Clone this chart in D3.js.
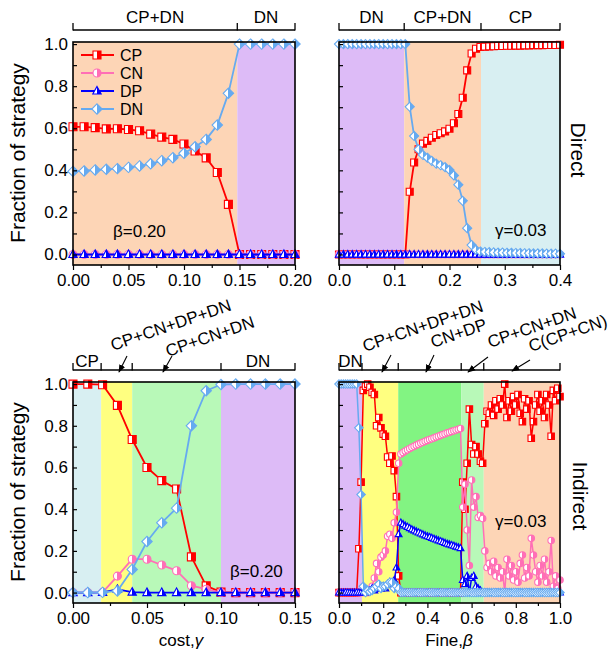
<!DOCTYPE html>
<html>
<head>
<meta charset="utf-8">
<script src="https://cdn.jsdelivr.net/npm/d3@7"></script>
<style>
  body { margin: 0; background: #fff; }
  svg text { font-family: "Liberation Sans", Arial, sans-serif; fill: #000; }
</style>
</head>
<body>
<script>
// ---- data: direct punishment, cost sweep (beta = 0.20)
const tlCost = [0,0.01,0.02,0.03,0.04,0.05,0.06,0.07,0.08,0.09,0.10,0.11,0.12,0.13,0.14,0.15,0.16,0.17,0.18,0.19,0.20];
const tlCP = [0.607,0.607,0.603,0.597,0.598,0.594,0.588,0.572,0.558,0.547,0.525,0.492,0.459,0.390,0.238,0,0,0,0,0,0];
const tlCN = [0,0,0,0,0,0,0,0,0,0,0,0,0,0,0,0,0,0,0,0,0];
const tlDP = [0,0,0,0,0,0,0,0,0,0,0,0,0,0,0,0,0,0,0,0,0];
const tlDN = [0.395,0.397,0.402,0.405,0.408,0.414,0.421,0.431,0.446,0.460,0.481,0.512,0.547,0.615,0.766,1,1,1,1,1,1];
const tlBounds = [0, 0.148, 0.2];
const tlPhases = ["CP+DN", "DN"];

// ---- direct punishment, fine sweep (gamma = 0.03)
const trFine = [0,0.008,0.016,0.024,0.032,0.04,0.048,0.056,0.064,0.072,0.08,0.088,0.096,0.104,0.112,0.12,0.128,0.136,0.144,0.152,0.16,0.168,0.176,0.184,0.192,0.2,0.208,0.216,0.224,0.232,0.24,0.248,0.256,0.264,0.272,0.28,0.288,0.296,0.304,0.312,0.32,0.328,0.336,0.344,0.352,0.36,0.368,0.376,0.384,0.392,0.4];
const trCP = [0,0,0,0,0,0,0,0,0,0,0,0,0,0,0,0,
  0.298,0.437,0.500,0.527,0.540,0.555,0.568,0.576,0.585,0.598,0.624,0.668,0.745,0.875,0.955,0.978,0.986,
  0.988,0.989,0.990,0.991,0.991,0.992,0.992,0.993,0.993,0.994,0.994,0.995,0.995,0.995,0.996,0.996,0.996,0.997];
const trCN = [0,0,0,0,0,0,0,0,0,0,0,0,0,0,0,0,0,0,0,0,0,0,0,0,0,0,0,0,0,0,0,0,0,0,0,0,0,0,0,0,0,0,0,0,0,0,0,0,0,0,0];
const trDP = [0,0,0,0,0,0,0,0,0,0,0,0,0,0,0,0,0,0,0,0,0,0,0,0,0,0,0,0,0,0,0,0,0,0,0,0,0,0,0,0,0,0,0,0,0,0,0,0,0,0,0];
const trDN = [1,1,1,1,1,1,1,1,1,1,1,1,1,1,1,1,
  0.702,0.563,0.500,0.473,0.460,0.445,0.432,0.424,0.415,0.402,0.376,0.332,0.255,0.125,0.045,0.022,0.014,
  0.012,0.011,0.010,0.009,0.009,0.008,0.008,0.007,0.007,0.006,0.006,0.005,0.005,0.005,0.004,0.004,0.004,0.003];
const trBounds = [0, 0.118, 0.257, 0.4];
const trPhases = ["DN", "CP+DN", "CP"];

// ---- indirect punishment, cost sweep (beta = 0.20)
const blCost = [0,0.01,0.02,0.03,0.04,0.05,0.06,0.07,0.08,0.09,0.10,0.11,0.12,0.13,0.14,0.15];
const blCP = [1,1,0.997,0.898,0.734,0.600,0.537,0.497,0.171,0.032,0.002,0,0,0,0,0];
const blCN = [0,0,0.001,0.079,0.160,0.160,0.132,0.105,0.033,0.016,0,0,0,0,0,0];
const blDP = [0,0,0.001,0.015,0.002,0,0,0,0,0,0,0,0,0,0,0];
const blDN = [0,0,0.001,0.008,0.111,0.245,0.335,0.405,0.800,0.968,0.998,1,1,1,1,1];
const blBounds = [0, 0.019, 0.04, 0.1, 0.15];
const blPhases = ["CP", "CP+CN+DP+DN", "CP+CN+DN", "DN"];

// ---- indirect punishment, fine sweep (gamma = 0.03)
const brFine = [0,0.01,0.02,0.03,0.04,0.05,0.06,0.07,0.08,0.09,0.10,0.11,0.12,0.13,0.14,0.15,0.16,0.17,0.18,0.19,
  0.20,0.21,0.22,0.23,0.24,0.25,0.26,0.27,0.28,0.29,0.30,0.31,0.32,0.33,0.34,0.35,0.36,0.37,0.38,0.39,
  0.40,0.41,0.42,0.43,0.44,0.45,0.46,0.47,0.48,0.49,0.50,0.51,0.52,0.53,0.54,0.55,0.56,0.57,0.58,0.59,
  0.60,0.61,0.62,0.63,0.64,0.65,0.66,0.67,0.68,0.69,0.70,0.71,0.72,0.73,0.74,0.75,0.76,0.77,0.78,0.79,
  0.80,0.81,0.82,0.83,0.84,0.85,0.86,0.87,0.88,0.89,0.90,0.91,0.92,0.93,0.94,0.95,0.96,0.97,0.98,0.99,1.00];
const brCP = [0,0,0,0,0,0,0,0,0,0.21,
  0.53,0.97,0.99,1.0,0.985,0.96,0.95,0.80,0.84,0.79,
  0.76,0.75,0.65,0.62,0.655,0.585,0.46,0.08,0,0,
  0,0,0,0,0,0,0,0,0,0,
  0,0,0,0,0,0,0,0,0,0,
  0,0,0,0,0,0,0.53,0.40,0.62,0.88,
  0.71,0.665,0.70,0.665,0.63,0.62,0.81,0.87,0.86,0.90,
  0.85,0.92,0.88,0.93,0.90,1.0,0.84,0.92,0.87,0.94,
  0.90,0.95,0.86,0.82,0.93,0.88,0.92,0.74,0.82,0.90,
  0.95,0.87,0.92,0.84,0.95,0.90,0.75,0.97,0.92,0.98,
  0.94];
const brCN = [0,0,0,0,0,0,0,0,0,0,
  0,0,0.01,0,0.01,0.03,0.07,0.14,0.10,0.17,
  0.18,0.20,0.27,0.28,0.26,0.335,0.385,0.62,0.665,0.672,
  0.679,0.685,0.691,0.697,0.702,0.707,0.712,0.717,0.721,0.726,
  0.730,0.734,0.738,0.742,0.746,0.750,0.754,0.758,0.762,0.766,
  0.769,0.773,0.776,0.780,0.783,0.787,0.41,0.52,0.30,0.13,
  0.54,0.41,0.46,0.36,0.37,0.355,0.20,0.12,0.14,0.10,
  0.15,0.08,0.12,0.07,0.10,0.0,0.16,0.08,0.13,0.06,
  0.10,0.05,0.14,0.18,0.07,0.12,0.08,0.26,0.18,0.10,
  0.05,0.13,0.08,0.16,0.05,0.10,0.25,0.03,0.08,0.02,
  0.06];
const brDP = [0,0,0,0,0,0,0,0,0,0,
  0,0,0,0.01,0.01,0.02,0.01,0.03,0.02,0.02,
  0.03,0.02,0.04,0.05,0.04,0.06,0.12,0.28,0.335,0.328,
  0.321,0.315,0.309,0.303,0.298,0.293,0.288,0.283,0.279,0.274,
  0.270,0.266,0.262,0.258,0.254,0.250,0.246,0.242,0.238,0.234,
  0.231,0.227,0.224,0.220,0.217,0.213,0.06,0.04,0.08,0,
  0.07,0.08,0.03,0.02,0.01,0,0,0,0,0,
  0,0,0,0,0,0,0,0,0,0,
  0,0,0,0,0,0,0,0,0,0,
  0,0,0,0,0,0,0,0,0,0,
  0];
const brDN = [1,1,1,1,1,1,1,1,1,0.79,
  0.47,0.03,0,0.01,0.005,0.01,0.02,0.03,0.04,0.02,
  0.03,0.03,0.04,0.05,0.05,0.02,0.03,0.02,0,0,
  0,0,0,0,0,0,0,0,0,0,
  0,0,0,0,0,0,0,0,0,0,
  0,0,0,0,0,0,0,0,0,0,
  0,0,0,0,0,0,0,0,0,0,
  0,0,0,0,0,0,0,0,0,0,
  0,0,0,0,0,0,0,0,0,0,
  0,0,0,0,0,0,0,0,0,0,
  0];
const brBounds = [0, 0.104, 0.268, 0.553, 0.655, 1.0];
const brPhases = ["DN", "CP+CN+DP+DN", "CN+DP", "CP+CN+DN", "C(CP+CN)"];

const strategies = ["CP", "CN", "DP", "DN"];
const yMajor = [0, 0.2, 0.4, 0.6, 0.8, 1.0];
const yMinor = [0.1, 0.3, 0.5, 0.7, 0.9];

// ---- styles
const W = 616, H = 652;
const FONT = '"Liberation Sans", Arial, sans-serif';
const color = { CP: "#ff0000", CN: "#ff6fb6", DP: "#0000ff", DN: "#66aaf0" };
const shape = { CP: "square", CN: "circle", DP: "triangle", DN: "diamond" };
const phaseFill = {
  "CP+DN": "#fdd5b6", "C(CP+CN)": "#fdd5b6", "DN": "#ddbbf7", "CP": "#d8eff2",
  "CP+CN+DP+DN": "#ffff80", "CP+CN+DN": "#b8f9b8", "CN+DP": "#82f482"
};

const svg = d3.select("body").append("svg").attr("width", W).attr("height", H);
const defs = svg.append("defs");
strategies.forEach(k => {
  const gr = defs.append("linearGradient").attr("id", "half-" + k)
    .attr("x1", 0).attr("x2", 1).attr("y1", 0).attr("y2", 0);
  gr.append("stop").attr("offset", 0).attr("stop-color", "#fff");
  gr.append("stop").attr("offset", 0.5).attr("stop-color", "#fff");
  gr.append("stop").attr("offset", 0.5).attr("stop-color", color[k]);
  gr.append("stop").attr("offset", 1).attr("stop-color", color[k]);
});
defs.append("marker").attr("id", "arrow").attr("viewBox", "0 0 10 10")
  .attr("refX", 9).attr("refY", 5).attr("markerWidth", 8).attr("markerHeight", 8)
  .attr("markerUnits", "userSpaceOnUse").attr("orient", "auto")
  .append("path").attr("d", "M0,1L10,5L0,9Z").attr("fill", "#000");

function symbolPath(kind, s) {
  const h = s / 2;
  if (kind === "square") return `M${-h},${-h}H${h}V${h}H${-h}Z`;
  if (kind === "circle") return d3.symbol(d3.symbolCircle, Math.PI * h * h)();
  if (kind === "triangle") return `M0,${-h * 1.15}L${h * 1.05},${h * 0.75}L${-h * 1.05},${h * 0.75}Z`;
  const r = h * 1.3;
  return `M0,${-r}L${r},0L0,${r}L${-r},0Z`;
}

const panels = [
  { xs: tlCost, data: { CP: tlCP, CN: tlCN, DP: tlDP, DN: tlDN }, bounds: tlBounds, phases: tlPhases,
    left: 73, right: 295, top: 42, bottom: 265, xDomain: [0, 0.2],
    xMajor: [0, 0.05, 0.1, 0.15, 0.2], xMinor: [0.025, 0.075, 0.125, 0.175], fmt: ".2f",
    yLabels: true, ms: 8, lw: 1.8 },
  { xs: trFine, data: { CP: trCP, CN: trCN, DP: trDP, DN: trDN }, bounds: trBounds, phases: trPhases,
    left: 339, right: 560, top: 42, bottom: 265, xDomain: [0, 0.4],
    xMajor: [0, 0.1, 0.2, 0.3, 0.4], xMinor: [0.05, 0.15, 0.25, 0.35], fmt: ".1f",
    yLabels: false, ms: 7, lw: 1.8 },
  { xs: blCost, data: { CP: blCP, CN: blCN, DP: blDP, DN: blDN }, bounds: blBounds, phases: blPhases,
    left: 73, right: 295, top: 382, bottom: 603, xDomain: [0, 0.15],
    xMajor: [0, 0.05, 0.1, 0.15], xMinor: [0.025, 0.075, 0.125], fmt: ".2f",
    yLabels: true, ms: 8, lw: 1.8 },
  { xs: brFine, data: { CP: brCP, CN: brCN, DP: brDP, DN: brDN }, bounds: brBounds, phases: brPhases,
    left: 339, right: 560, top: 382, bottom: 603, xDomain: [0, 1],
    xMajor: [0, 0.2, 0.4, 0.6, 0.8, 1.0], xMinor: [0.1, 0.3, 0.5, 0.7, 0.9], fmt: ".1f",
    yLabels: false, ms: 6.5, lw: 1.5 }
];

panels.forEach(p => {
  const x = d3.scaleLinear().domain(p.xDomain).range([p.left, p.right]);
  const y = d3.scaleLinear().domain([-0.05, 1.01]).range([p.bottom, p.top]);
  p.x = x; p.y = y;
  const g = svg.append("g");

  // phase backgrounds
  g.selectAll("rect.phase").data(p.phases).join("rect").attr("class", "phase")
    .attr("x", (d, i) => x(p.bounds[i])).attr("y", p.top)
    .attr("width", (d, i) => x(p.bounds[i + 1]) - x(p.bounds[i]))
    .attr("height", p.bottom - p.top).attr("fill", d => phaseFill[d]);

  // series: line then markers, CP first, DN on top
  strategies.forEach(k => {
    const vals = p.data[k];
    g.append("path").datum(vals)
      .attr("d", d3.line().x((d, i) => x(p.xs[i])).y(d => y(d)))
      .attr("fill", "none").attr("stroke", color[k]).attr("stroke-width", p.lw)
      .attr("stroke-linejoin", "round");
    g.selectAll("path.m" + k).data(vals).join("path").attr("class", "m" + k)
      .attr("d", symbolPath(shape[k], p.ms))
      .attr("transform", (d, i) => `translate(${x(p.xs[i])},${y(d)})`)
      .attr("fill", `url(#half-${k})`).attr("stroke", color[k]).attr("stroke-width", 1.1);
  });

  // axes
  g.append("g").attr("transform", `translate(${p.left},0)`)
    .call(d3.axisLeft(y).tickValues(yMajor).tickSize(-4).tickPadding(5)
      .tickFormat(p.yLabels ? d3.format(".1f") : () => ""));
  g.append("g").attr("transform", `translate(${p.left},0)`)
    .call(d3.axisLeft(y).tickValues(yMinor).tickSize(-4).tickFormat(() => ""));
  g.append("g").attr("transform", `translate(0,${p.bottom})`)
    .call(d3.axisBottom(x).tickValues(p.xMajor).tickSize(5).tickPadding(4).tickFormat(d3.format(p.fmt)));
  g.append("g").attr("transform", `translate(0,${p.bottom})`)
    .call(d3.axisBottom(x).tickValues(p.xMinor).tickSize(3).tickFormat(() => ""));
  g.selectAll(".domain").remove();
  g.selectAll(".tick line").attr("stroke", "#000").attr("stroke-width", 1.2);
  g.selectAll(".tick text").attr("font-size", 17).attr("font-family", FONT).attr("fill", "#000");

  // frame
  g.append("rect").attr("x", p.left).attr("y", p.top)
    .attr("width", p.right - p.left).attr("height", p.bottom - p.top)
    .attr("fill", "none").attr("stroke", "#000").attr("stroke-width", 1.6);

  // phase bracket above the frame
  const by = p.top - 12;
  g.append("line").attr("x1", p.left).attr("x2", p.right).attr("y1", by).attr("y2", by)
    .attr("stroke", "#000").attr("stroke-width", 1.3);
  g.selectAll("line.bt").data(p.bounds).join("line").attr("class", "bt")
    .attr("x1", d => x(d)).attr("x2", d => x(d)).attr("y1", by + 0.6).attr("y2", by - 7)
    .attr("stroke", "#000").attr("stroke-width", 1.3);
});

// horizontal phase labels
function phaseLabel(p, i, dy) {
  svg.append("text").attr("x", (p.x(p.bounds[i]) + p.x(p.bounds[i + 1])) / 2)
    .attr("y", p.top - 12 - dy).attr("text-anchor", "middle").attr("font-size", 17)
    .text(p.phases[i]);
}
phaseLabel(panels[0], 0, 7); phaseLabel(panels[0], 1, 7);
phaseLabel(panels[1], 0, 7); phaseLabel(panels[1], 1, 7); phaseLabel(panels[1], 2, 7);
phaseLabel(panels[2], 0, 3); phaseLabel(panels[2], 3, 3);
phaseLabel(panels[3], 0, 3);

// rotated phase labels with arrows
function slantLabel(p, i, tx, ty, ax1, ay1, ax2, ay2) {
  svg.append("text").attr("transform", `translate(${tx},${ty}) rotate(-19)`)
    .attr("font-size", 17).text(p.phases[i]);
  svg.append("line").attr("x1", ax1).attr("y1", ay1).attr("x2", ax2).attr("y2", ay2)
    .attr("stroke", "#000").attr("stroke-width", 1.1).attr("marker-end", "url(#arrow)");
}
slantLabel(panels[2], 1, 113, 351, 127, 356, 119, 372);
slantLabel(panels[2], 2, 168, 357, 172, 356, 163, 372);
slantLabel(panels[3], 1, 365, 352, 391, 355, 382, 372);
slantLabel(panels[3], 2, 433, 348, 434, 355, 426, 372);
slantLabel(panels[3], 3, 490, 348, 488, 357, 468, 372);
slantLabel(panels[3], 4, 531, 352, 530, 360, 512, 371);

// parameter notes
svg.append("text").attr("x", 113).attr("y", 237).attr("font-size", 17).text("β=0.20");
svg.append("text").attr("x", 495).attr("y", 236).attr("font-size", 17).text("γ=0.03");
svg.append("text").attr("x", 230).attr("y", 577).attr("font-size", 17).text("β=0.20");
svg.append("text").attr("x", 495).attr("y", 527).attr("font-size", 17).text("γ=0.03");

// legend
const lg = svg.append("g");
strategies.forEach((k, i) => {
  const ly = 55 + i * 18;
  lg.append("line").attr("x1", 81).attr("x2", 114).attr("y1", ly).attr("y2", ly)
    .attr("stroke", color[k]).attr("stroke-width", 1.8);
  lg.append("path").attr("d", symbolPath(shape[k], 8)).attr("transform", `translate(97,${ly})`)
    .attr("fill", `url(#half-${k})`).attr("stroke", color[k]).attr("stroke-width", 1.1);
  lg.append("text").attr("x", 120).attr("y", ly).attr("dy", "0.35em").attr("font-size", 16).text(k);
});

// axis titles
[153, 492].forEach(cy => {
  svg.append("text").attr("transform", `translate(25,${cy}) rotate(-90)`)
    .attr("text-anchor", "middle").attr("font-size", 21).text("Fraction of strategy");
});
svg.append("text").attr("transform", "translate(571,150) rotate(90)")
  .attr("text-anchor", "middle").attr("font-size", 21).text("Direct");
svg.append("text").attr("transform", "translate(573,496) rotate(90)")
  .attr("text-anchor", "middle").attr("font-size", 21).text("Indirect");

const xt1 = svg.append("text").attr("x", 181).attr("y", 646).attr("text-anchor", "middle").attr("font-size", 17);
xt1.append("tspan").text("cost,");
xt1.append("tspan").attr("font-style", "italic").text("γ");
const xt2 = svg.append("text").attr("x", 449).attr("y", 646).attr("text-anchor", "middle").attr("font-size", 17);
xt2.append("tspan").text("Fine,");
xt2.append("tspan").attr("font-style", "italic").text("β");
</script>
</body>
</html>
